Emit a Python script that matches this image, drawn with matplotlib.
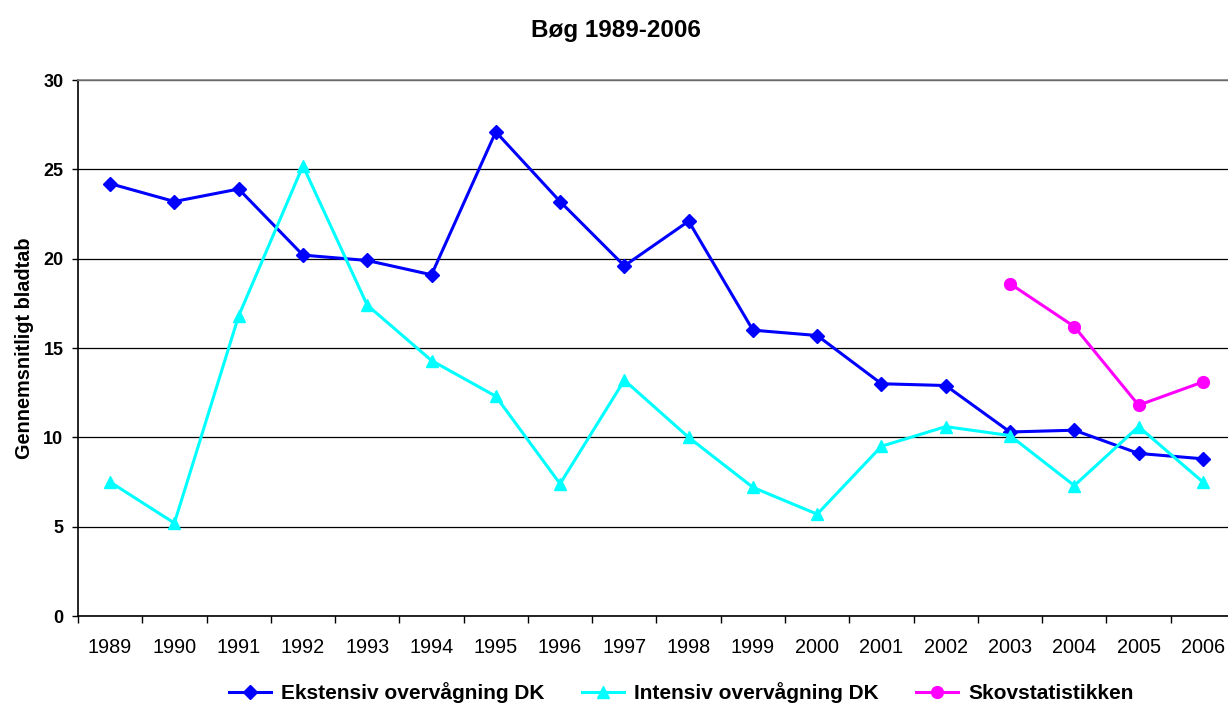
import numpy as np
import matplotlib
matplotlib.use("Agg")
import matplotlib.pyplot as plt
from matplotlib.ticker import FixedLocator, MultipleLocator

plt.rcParams['font.family'] = ['Liberation Sans', 'DejaVu Sans']

# ---- data ----
years = ['1989', '1990', '1991', '1992', '1993', '1994', '1995', '1996', '1997',
         '1998', '1999', '2000', '2001', '2002', '2003', '2004', '2005', '2006']
ekstensiv = [24.2, 23.2, 23.9, 20.2, 19.9, 19.1, 27.1, 23.2, 19.6,
             22.1, 16.0, 15.7, 13.0, 12.9, 10.3, 10.4, 9.1, 8.8]
intensiv = [7.5, 5.2, 16.8, 25.2, 17.4, 14.3, 12.3, 7.4, 13.2,
            10.0, 7.2, 5.7, 9.5, 10.6, 10.1, 7.3, 10.6, 7.5]
skov_years = ['2003', '2004', '2005', '2006']
skovstat = [18.6, 16.2, 11.8, 13.1]

x = np.arange(len(years))
x_skov = np.array([years.index(y) for y in skov_years])

fig = plt.figure(figsize=(12.28, 7.07), dpi=100)
ax = fig.add_axes([0.0635, 0.1287, 0.9422, 0.7581])

ax.plot(x, ekstensiv, color='#0000FF', lw=2.2, marker='D', ms=7.2,
        label='Ekstensiv overvågning DK', zorder=3)
ax.plot(x, intensiv, color='#00FFFF', lw=2.2, marker='^', ms=9,
        label='Intensiv overvågning DK', zorder=3)
ax.plot(x_skov, skovstat, color='#FF00FF', lw=2.2, marker='o', ms=8.5,
        label='Skovstatistikken', zorder=3)

ax.set_xlim(-0.5, len(years) - 0.5)
ax.set_ylim(0, 30)
ax.yaxis.set_major_locator(MultipleLocator(5))
ax.grid(axis='y', color='black', lw=0.9)
ax.set_axisbelow(True)

# category labels centred, tick marks between categories
ax.set_xticks(x)
ax.set_xticklabels(years, fontsize=14.3)
ax.xaxis.set_minor_locator(FixedLocator(np.arange(-0.5, len(years), 1.0)))
ax.tick_params(axis='x', which='major', length=0, pad=16)
ax.tick_params(axis='x', which='minor', length=5, width=1, direction='out', color='black')
ax.tick_params(axis='y', length=4.5, width=1, direction='out', pad=6)
for lab in ax.get_yticklabels():
    lab.set_fontweight('bold')
    lab.set_fontsize(13)

for side in ['top', 'right']:
    ax.spines[side].set_color('#808080')
    ax.spines[side].set_linewidth(1.2)
for side in ['left', 'bottom']:
    ax.spines[side].set_color('black')
    ax.spines[side].set_linewidth(1.2)

ax.set_ylabel('Gennemsnitligt bladtab', fontsize=14.3, fontweight='bold', labelpad=7)

fig.text(0.5015, 0.948, 'Bøg 1989-2006', ha='center', va='baseline',
         fontsize=17.5, fontweight='bold')

fig.legend(loc='center', bbox_to_anchor=(0.555, 0.02), ncol=3, frameon=False,
           prop={'weight': 'bold', 'size': 15}, handlelength=2.0,
           handletextpad=0.5, columnspacing=1.8)

fig.savefig('out.png', dpi=100)
